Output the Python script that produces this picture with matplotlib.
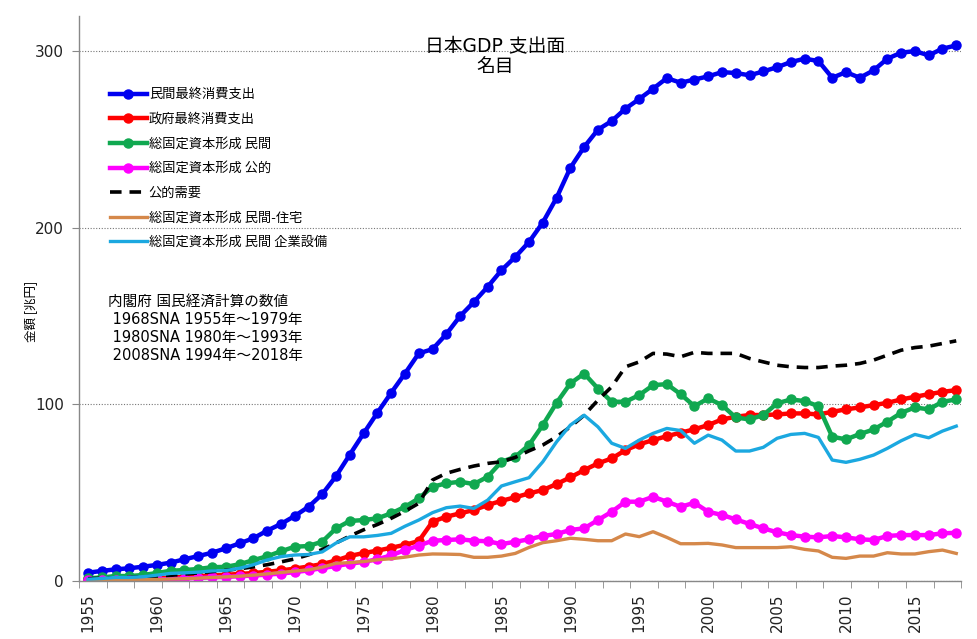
import numpy as np
import matplotlib
matplotlib.use("Agg")
import matplotlib.pyplot as plt

plt.rcParams['font.family'] = ['Noto Sans CJK JP', 'DejaVu Sans']
LATIN_FIRST = ['DejaVu Sans', 'Noto Sans CJK JP']

# ================================ DATA (兆円) ================================
years = list(range(1955, 2019))

private_consumption = [
    4.7, 5.7, 6.6, 7.2, 8.1, 9.1, 10.4, 12.3, 14.1, 16.0,
    18.5, 21.3, 24.2, 28.5, 32.3, 36.8, 42.0, 49.2, 59.4, 71.6,
    83.6, 95.3, 106.6, 117.5, 128.9, 131.3, 139.8, 150.0, 158.0, 166.6,
    176.0, 183.5, 192.0, 203.0, 217.0, 234.0, 245.8, 255.6, 260.5, 267.5,
    273.0, 278.8, 284.8, 282.2, 284.0, 285.8, 288.2, 287.7, 286.4, 288.6,
    291.0, 293.9, 295.8, 294.5, 285.0, 288.2, 285.0, 289.2, 295.8, 299.2,
    300.1, 297.7, 301.5, 303.3]

gov_consumption = [
    0.9, 1.0, 1.1, 1.2, 1.4, 1.6, 1.9, 2.3, 2.7, 3.1,
    3.5, 4.0, 4.5, 5.2, 6.0, 7.0, 8.2, 9.6, 11.6, 14.2,
    15.8, 17.2, 18.8, 20.5, 22.6, 33.6, 36.4, 38.3, 40.2, 43.0,
    45.4, 47.4, 49.6, 51.5, 54.9, 58.7, 62.8, 66.6, 69.4, 74.1,
    77.4, 79.8, 82.0, 84.0, 85.9, 88.3, 91.5, 93.0, 94.0, 94.0,
    94.3, 94.9, 94.9, 94.3, 95.8, 97.2, 98.3, 99.6, 100.9, 102.8,
    104.3, 105.8, 107.1, 108.1]

gfcf_private = [
    1.5, 2.0, 2.8, 2.8, 3.4, 4.5, 5.8, 6.2, 6.8, 7.8,
    8.0, 9.5, 11.8, 14.0, 16.8, 19.4, 19.8, 22.3, 29.8, 34.0,
    34.5, 35.5, 38.3, 42.0, 46.8, 53.4, 55.3, 56.2, 54.9, 59.0,
    67.5, 70.3, 77.0, 88.3, 100.9, 111.9, 117.5, 109.0, 101.5, 101.5,
    105.3, 110.9, 111.5, 105.8, 99.0, 103.4, 99.6, 92.6, 91.5, 94.0,
    100.6, 102.8, 101.9, 99.0, 81.7, 80.2, 83.2, 85.8, 90.2, 95.2,
    98.3, 97.2, 101.5, 102.8]

gfcf_public = [
    0.3, 0.4, 0.5, 0.6, 0.7, 0.9, 1.1, 1.4, 1.7, 2.0,
    2.3, 2.7, 3.1, 3.6, 4.2, 5.0, 6.0, 7.3, 8.5, 9.8,
    10.8, 12.3, 14.5, 17.5, 20.0, 22.8, 23.2, 23.6, 22.8, 22.5,
    20.9, 22.2, 23.6, 25.5, 26.6, 28.9, 29.8, 34.5, 39.2, 44.9,
    44.9, 47.7, 44.9, 42.0, 44.3, 39.2, 37.4, 34.9, 32.3, 29.8,
    27.6, 26.0, 25.1, 24.7, 25.5, 24.7, 23.6, 23.2, 25.5, 26.0,
    26.0, 26.0, 27.0, 27.3]

public_demand = [
    1.3, 1.5, 1.7, 2.0, 2.3, 2.7, 3.2, 3.9, 4.6, 5.3,
    6.0, 6.9, 8.0, 9.2, 10.8, 12.5, 14.8, 17.8, 21.5, 25.5,
    29.0, 32.0, 35.5, 39.5, 44.0, 57.2, 61.0, 63.2, 65.1, 66.6,
    67.5, 70.0, 73.7, 77.0, 81.7, 87.3, 93.9, 102.4, 110.0, 121.3,
    124.1, 128.9, 128.5, 127.0, 129.5, 128.9, 128.9, 128.9, 126.0, 124.1,
    122.2, 121.3, 120.9, 120.9, 121.7, 122.2, 123.2, 125.1, 127.9, 130.7,
    132.2, 133.0, 134.5, 136.0]

gfcf_housing = [
    0.3, 0.4, 0.5, 0.6, 0.7, 0.9, 1.1, 1.3, 1.6, 2.0,
    2.3, 2.7, 3.3, 4.0, 4.8, 5.6, 6.3, 7.8, 10.0, 10.4,
    11.0, 12.0, 12.6, 13.5, 14.7, 15.3, 15.2, 15.0, 13.4, 13.4,
    14.1, 15.6, 19.0, 21.7, 22.8, 24.2, 23.6, 22.8, 22.8, 26.6,
    25.1, 27.9, 24.7, 21.1, 21.1, 21.3, 20.4, 18.9, 18.9, 18.9,
    18.9, 19.4, 17.9, 17.0, 13.4, 12.8, 14.1, 14.1, 16.0, 15.3,
    15.3, 16.6, 17.5, 15.6]

gfcf_equipment = [
    1.0, 1.4, 2.0, 2.0, 2.4, 3.3, 4.3, 4.6, 5.0, 5.7,
    5.9, 7.2, 9.2, 11.9, 13.8, 14.7, 15.0, 16.5, 21.5, 25.0,
    25.0, 25.8, 27.0, 31.0, 34.5, 38.7, 41.5, 42.4, 41.1, 45.8,
    53.8, 56.2, 58.5, 67.5, 78.8, 88.3, 93.9, 87.3, 78.0, 75.1,
    79.8, 83.6, 86.4, 85.2, 78.0, 82.6, 79.8, 73.6, 73.6, 75.7,
    80.8, 83.0, 83.6, 81.3, 68.5, 67.2, 68.9, 71.3, 75.1, 79.4,
    83.0, 81.1, 84.9, 87.7]

label_years = list(range(1955, 2016, 5))

# ================================== PLOT ====================================
fig = plt.figure(figsize=(9.77, 6.39), dpi=100)
ax = fig.add_axes([0.0809, 0.0908, 0.9028, 0.8842])

ax.plot(years, private_consumption, color='#0000F0', lw=3.2, marker='o', ms=6.5, label='民間最終消費支出')
ax.plot(years, gov_consumption, color='#FF0000', lw=3.2, marker='o', ms=6.5, label='政府最終消費支出')
ax.plot(years, gfcf_private, color='#10A850', lw=3.2, marker='o', ms=6.5, label='総固定資本形成 民間')
ax.plot(years, gfcf_public, color='#FF00FF', lw=3.2, marker='o', ms=6.5, label='総固定資本形成 公的')
ax.plot(years, public_demand, color='black', lw=2.6, ls=(0, (3.2, 2.2)), label='公的需要')
ax.plot(years, gfcf_housing, color='#D5884A', lw=2.4, label='総固定資本形成 民間-住宅')
ax.plot(years, gfcf_equipment, color='#1BA8E0', lw=2.4, label='総固定資本形成 民間 企業設備')

ax.set_xlim(1954.35, 2018.3)
ax.set_ylim(0, 320)

ax.set_yticks([0, 100, 200, 300])
ax.set_xticks(label_years)
ax.set_xticklabels([str(y) for y in label_years], rotation=90)
ax.set_xticks(np.arange(1954.35, 2018.4, 2), minor=True)
ax.tick_params(axis='x', which='major', length=0, pad=9, labelsize=11, colors='#222222')
ax.tick_params(axis='x', which='minor', length=5, color='#888888')
ax.tick_params(axis='y', length=5, color='#888888', pad=6, labelsize=11, labelcolor='#222222')
for lbl in ax.get_xticklabels() + ax.get_yticklabels():
    lbl.set_family(LATIN_FIRST)

for s in ['top', 'right']:
    ax.spines[s].set_visible(False)
for s in ['left', 'bottom']:
    ax.spines[s].set_color('#888888')
    ax.spines[s].set_linewidth(1.0)

ax.grid(axis='y', ls=(0, (1, 1.5)), color='#777777', lw=0.8)
ax.set_axisbelow(True)

leg = ax.legend(loc='upper left', bbox_to_anchor=(0.035, 0.872), frameon=False,
                fontsize=9.5, numpoints=1, handlelength=2.8, handletextpad=0.15,
                labelspacing=0.88, borderaxespad=0, borderpad=0)

ax.text(0.472, 0.928, '日本GDP 支出面\n名目', transform=ax.transAxes, ha='center', va='center',
        fontsize=13.5, linespacing=1.1, family=LATIN_FIRST)

ax.text(0.033, 0.508, '内閣府 国民経済計算の数値\n 1968SNA 1955年〜1979年\n 1980SNA 1980年〜1993年\n 2008SNA 1994年〜2018年',
        transform=ax.transAxes, ha='left', va='top', fontsize=10.5, linespacing=1.25,
        family=LATIN_FIRST)

fig.text(0.031, 0.512, '金額 [兆円]', rotation=90, ha='center', va='center', fontsize=9)

fig.savefig('out.png', dpi=100)
